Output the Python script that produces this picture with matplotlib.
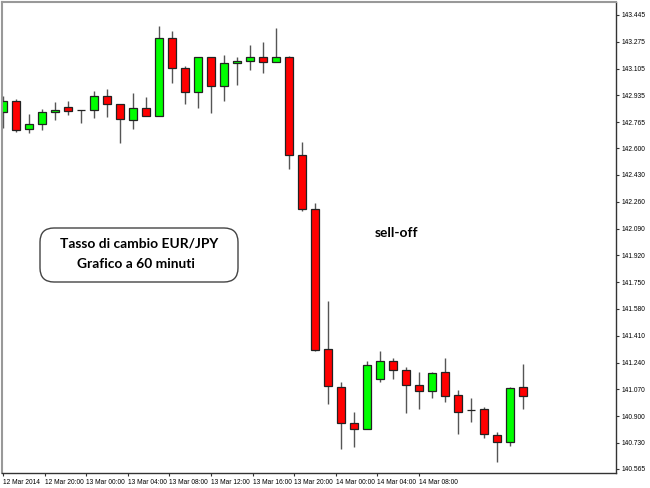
import matplotlib
matplotlib.use('Agg')
import matplotlib.pyplot as plt
from matplotlib.patches import FancyBboxPatch
import numpy as np

# EUR/JPY hourly candles
opens = [142.830, 142.899, 142.722, 142.754, 142.830, 142.861, 142.842, 142.842, 142.931, 142.880,
         142.779, 142.855, 142.804, 143.299, 143.109, 142.957, 143.179, 142.995, 143.141, 143.153,
         143.179, 143.147, 143.179, 142.557, 142.214, 141.326, 141.085, 140.857, 140.819, 141.136,
         141.250, 141.193, 141.098, 141.060, 141.180, 141.034, 140.939, 140.945, 140.781, 140.736,
         141.085]
highs = [142.930, 142.912, 142.817, 142.849, 142.893, 142.899, 142.845, 142.963, 142.976, 142.880,
         142.950, 142.925, 143.375, 143.343, 143.121, 143.179, 143.179, 143.191, 143.179, 143.255,
         143.274, 143.363, 143.185, 142.639, 142.252, 141.631, 141.117, 140.926, 141.250, 141.313,
         141.269, 141.212, 141.180, 141.180, 141.269, 141.066, 141.015, 140.958, 140.800, 141.085,
         141.231]
lows = [142.730, 142.703, 142.696, 142.715, 142.779, 142.810, 142.760, 142.791, 142.798, 142.633,
        142.722, 142.804, 142.804, 143.014, 142.880, 142.855, 142.823, 142.899, 143.001, 143.096,
        143.077, 143.147, 142.468, 142.202, 141.313, 140.977, 140.692, 140.704, 140.819, 141.117,
        141.136, 140.920, 140.945, 141.015, 140.990, 140.787, 140.863, 140.762, 140.609, 140.711,
        140.945]
closes = [142.899, 142.715, 142.754, 142.830, 142.842, 142.836, 142.842, 142.931, 142.880, 142.785,
          142.855, 142.804, 143.299, 143.109, 142.957, 143.179, 142.995, 143.141, 143.153, 143.179,
          143.147, 143.179, 142.557, 142.214, 141.320, 141.091, 140.857, 140.819, 141.225, 141.250,
          141.193, 141.098, 141.060, 141.174, 141.028, 140.926, 140.939, 140.787, 140.736, 141.079,
          141.028]

price_ticks = [143.445, 143.275, 143.105, 142.935, 142.765, 142.600, 142.430, 142.260, 142.090,
               141.920, 141.750, 141.580, 141.410, 141.240, 141.070, 140.900, 140.730, 140.565]
time_labels = ['12 Mar 2014', '12 Mar 20:00', '13 Mar 00:00', '13 Mar 04:00', '13 Mar 08:00',
               '13 Mar 12:00', '13 Mar 16:00', '13 Mar 20:00', '14 Mar 00:00', '14 Mar 04:00',
               '14 Mar 08:00']

fig = plt.figure(figsize=(6.5, 4.88), dpi=100)
ax = fig.add_axes([2/650, 1 - 473/488, 614/650, 471/488])

o = np.array(opens)
c = np.array(closes)
x = np.arange(len(o))
up = c >= o
cols = np.where(up, '#00ff00', '#ff0000')

ax.vlines(x, lows, highs, color='#555555', linewidth=1.0, zorder=1)
ax.bar(x, np.abs(c - o), bottom=np.minimum(o, c), width=0.62, color=cols,
       edgecolor='#222222', linewidth=0.9, zorder=2)

ax.set_xlim(-0.08, 47.15)
ax.set_ylim(140.539, 143.527)

ax.yaxis.tick_right()
ax.set_yticks(price_ticks)
ax.set_yticklabels([f'{p:.3f}' for p in price_ticks])
ax.set_xticks(np.arange(len(time_labels)) * 3.2)
ax.set_xticklabels(time_labels, ha='left')
ax.tick_params(axis='both', direction='out', length=2.5, width=0.8, color='#333333',
               labelsize=4.8, pad=1.5)
for lab in ax.get_xticklabels() + ax.get_yticklabels():
    lab.set_fontfamily('Liberation Sans')

for side in ['top', 'left']:
    ax.spines[side].set_color('#999999')
    ax.spines[side].set_linewidth(1.5)
for side in ['right', 'bottom']:
    ax.spines[side].set_color('#333333')
    ax.spines[side].set_linewidth(1.0)

# annotation box
box = FancyBboxPatch((0.40, 2.06), 1.98, 0.54, boxstyle='round,pad=0,rounding_size=0.14',
                     transform=fig.dpi_scale_trans, facecolor='white', edgecolor='#444444',
                     linewidth=1.0, zorder=5)
fig.patches.append(box)
fig.text(139/650, 1 - 243/488, 'Tasso di cambio EUR/JPY', ha='center', va='center',
         fontsize=9.9, fontweight='bold', family='Lato', zorder=6)
fig.text(136/650, 1 - 264/488, 'Grafico a 60 minuti', ha='center', va='center',
         fontsize=9.9, fontweight='bold', family='Lato', zorder=6)
fig.text(396/650, 1 - 233/488, 'sell-off', ha='center', va='center',
         fontsize=9.9, fontweight='bold', family='Lato', zorder=6)

fig.savefig('out.png', dpi=100, facecolor='white')
